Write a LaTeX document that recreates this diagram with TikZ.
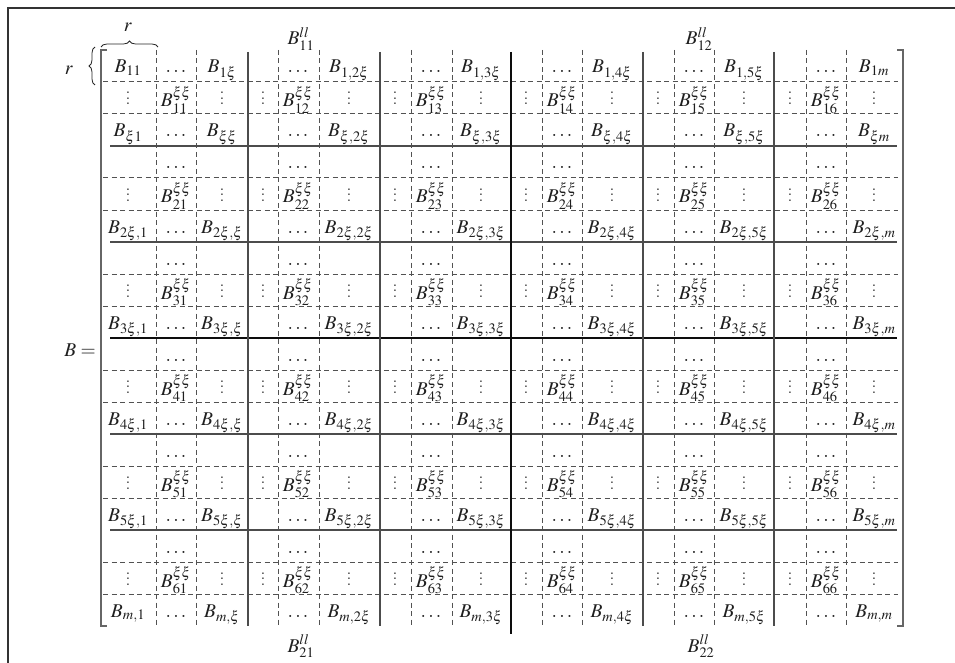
\documentclass[tikz,border=0pt]{standalone}
\usepackage{mathptmx}
\usetikzlibrary{decorations.pathreplacing}
\newcommand{\myvdots}{\vbox{\baselineskip5.5pt\lineskiplimit0pt\hbox{.}\hbox{.}\hbox{.}}}
\begin{document}
\begin{tikzpicture}[x=1pt,y=-1pt,
  txt/.style={inner sep=0pt,outer sep=0pt,anchor=base,text=black!88,font=\fontsize{19.5}{23}\selectfont},
  dline/.style={black!68,line width=1pt,dash pattern=on 5pt off 3.5pt},
  sline/.style={black!70,line width=1.3pt},
  tline/.style={black!95,line width=2.4pt},
  brk/.style={black!60,line width=1.6pt},
  framel/.style={black!80,line width=2pt},
  brc/.style={black!85,line width=0.8pt,decorate,decoration={brace,amplitude=6pt}}]
\useasboundingbox (0,0) rectangle (955,663);
% outer frame (cropped)
\draw[framel] (8,663) -- (8,8) -- (955,8);
% grid
\foreach \y in {82,114,178,210,274,306,370,402,466,498,562,594}
  \draw[dline] (103,\y) -- (898,\y);
\foreach \x in {156,196,278,319,411,452,542,582,674,714,806,846}
  \draw[dline] (\x,50) -- (\x,626);
\foreach \y in {146,242,434,530}
  \draw[sline] (110,\y) -- (897,\y);
\draw[tline] (110,338) -- (897,338);
\foreach \x in {248,380,643,774}
  \draw[sline] (\x,52) -- (\x,626);
\draw[tline] (511,52) -- (511,634);
% matrix brackets
\draw[brk] (107,50) -- (101,50) -- (101,626) -- (107,626);
\draw[brk] (897,50) -- (903,50) -- (903,626) -- (897,626);
% dots, vdots and diagonal blocks
\foreach \r in {1,...,6}{
  \foreach \x [count=\k] in {176,298,431,562,694,826}{
    \node[txt] (da-\r-\k) at (\x,96*\r-23) {$\ldots$};
    \node[txt] (dc-\r-\k) at (\x,96*\r+41) {$\ldots$};
    \node[txt] (bb-\r-\k) at (\x,96*\r+11) {$B^{\xi\xi}_{\r\k}$};
  }
  \foreach \x [count=\k] in {128,222,263,349,395,481,526,612,658,744,790,874}
    \node[txt] (v-\r-\k) at (\x,96*\r+9) {\myvdots};
}
% first row
\foreach \x/\s [count=\k] in {128/{11},222/{1\xi},349/{1,2\xi},481/{1,3\xi},612/{1,4\xi},744/{1,5\xi},874/{1m}}
  \node[txt] (e-0-\k) at (\x,73) {$B_{\s}$};
% row xi
\foreach \x/\s [count=\k] in {128/{\xi1},222/{\xi\xi},349/{\xi,2\xi},481/{\xi,3\xi},612/{\xi,4\xi},744/{\xi,5\xi},874/{\xi m}}
  \node[txt] (e-1-\k) at (\x,137) {$B_{\s}$};
% rows 2xi..5xi
\foreach \r in {2,...,5}{
  \foreach \x/\s [count=\k] in {128/1,222/\xi,349/2\xi,481/3\xi,612/4\xi,744/5\xi,874/m}
    \node[txt] (e-\r-\k) at (\x,96*\r+41) {$B_{\r\xi,\s}$};
}
% row m
\foreach \x/\s [count=\k] in {128/1,222/\xi,349/2\xi,481/3\xi,612/4\xi,744/5\xi,874/m}
  \node[txt] (e-6-\k) at (\x,617) {$B_{m,\s}$};
% labels
\node[txt] (Bll11) at (301,45) {$B^{ll}_{11}$};
\node[txt] (Bll12) at (699,45) {$B^{ll}_{12}$};
\node[txt] (Bll21) at (301,652) {$B^{ll}_{21}$};
\node[txt] (Bll22) at (701,652) {$B^{ll}_{22}$};
\node[txt] (Beq) at (80,356) {$B=$};
\node[txt] (rt) at (128,32) {$r$};
\node[txt] (rl) at (69,75) {$r$};
\draw[brc] (101,47) -- (158,47);
\draw[brc] (95,85) -- (95,47);
\end{tikzpicture}
\end{document}
